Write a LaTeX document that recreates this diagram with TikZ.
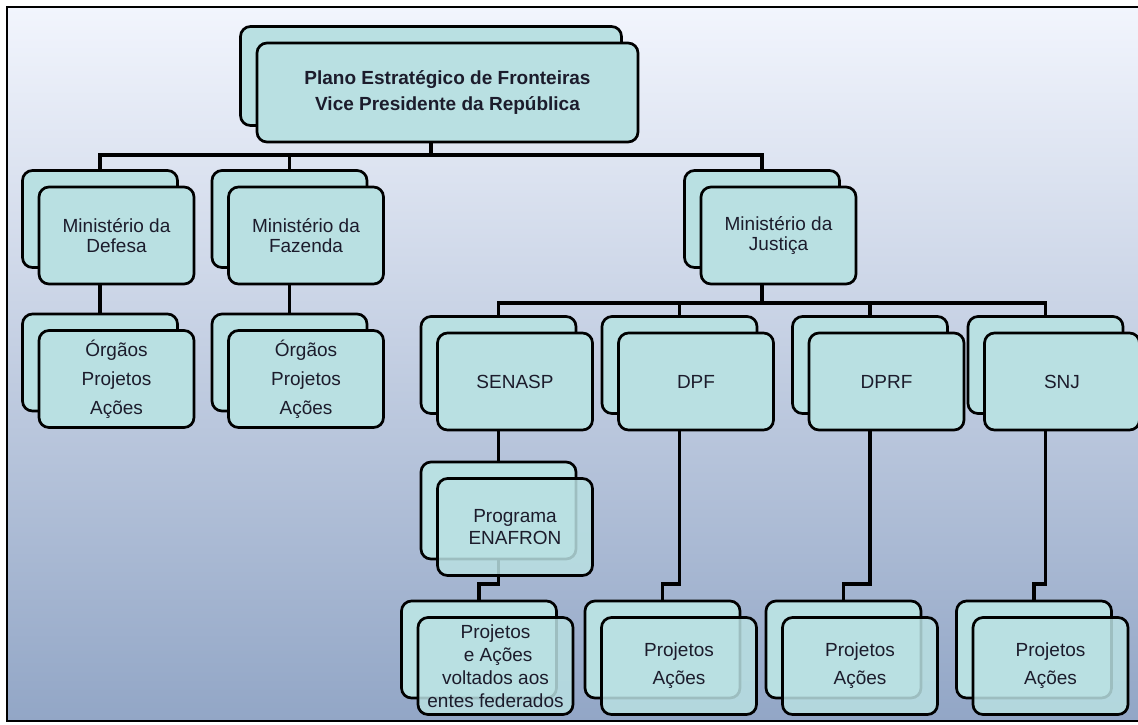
\documentclass[tikz,border=0pt]{standalone}
\usepackage{fontspec}
\setmainfont{Liberation Sans}
\usetikzlibrary{positioning, backgrounds}
\definecolor{cardfill}{RGB}{185,224,226}
\definecolor{cardtext}{RGB}{28,28,44}
\definecolor{bgtop}{RGB}{242,245,253}
\definecolor{bgmid}{RGB}{206,215,232}
\definecolor{bgbot}{RGB}{146,166,198}
\tikzset{
card/.style={draw=black, line width=1.35pt, fill=cardfill, rounded corners=5pt, minimum width=77.5pt, minimum height=48.5pt, align=center, text=cardtext, inner sep=1pt, font=\fontsize{9.5}{10}\selectfont}, % one sheet of a stacked box
topcard/.style={minimum width=190.5pt, minimum height=49.5pt, font=\bfseries\fontsize{9.5}{13.3}\selectfont}, % the wide box on top
sheet/.style={on grid, below right=8.25pt and 8.25pt of #1}, % front sheet sits right of and below its back sheet
faded/.style={fill opacity=0.85, text opacity=1}, % lets the back sheet show through
link/.style={line width=1.8pt, line join=miter}, % the black connectors
}

\begin{document}
\begin{tikzpicture}[x=0.5pt, y=-0.5pt]
  \useasboundingbox (0,0) rectangle (1138,724);

  % Top
  \node[card, topcard] (topB) at (431,76) {};
  \node[card, topcard, sheet=topB] (top) {Plano Estratégico de Fronteiras\\Vice Presidente da República};

  % Ministries
  \node[card] (defB) at (100,219) {};
  \node[card, sheet=defB] (def) {Ministério da\\Defesa};
  \node[card] (fazB) at (289.5,219) {};
  \node[card, sheet=fazB] (faz) {Ministério da\\Fazenda};
  \node[card] (jusB) at (762,219) {};
  \node[card, sheet=jusB] (jus) {Ministério da\\Justiça};

  \node[card] (defsubB) at (100,362.5) {};
  \node[card, sheet=defsubB, font=\fontsize{9.5}{14.5}\selectfont] (defsub) {Órgãos\\Projetos\\Ações};
  \node[card] (fazsubB) at (289.5,362.5) {};
  \node[card, sheet=fazsubB, font=\fontsize{9.5}{14.5}\selectfont] (fazsub) {Órgãos\\Projetos\\Ações};

  % Justiça
  \node[card] (senB) at (498.5,365) {};
  \node[card, sheet=senB] (sen) {SENASP};
  \node[card] (dpfB) at (679.5,365) {};
  \node[card, sheet=dpfB] (dpf) {DPF};
  \node[card] (dprfB) at (870,365) {};
  \node[card, sheet=dprfB] (dprf) {DPRF};
  \node[card] (snjB) at (1045.5,365) {};
  \node[card, sheet=snjB] (snj) {SNJ};

  \node[card] (enaB) at (498.5,510.5) {};
  \node[card, faded, sheet=enaB, font=\fontsize{9.5}{11}\selectfont] (ena) {Programa\\ENAFRON};

  % Projects
  \node[card] (pSenB) at (479,649.5) {};
  \node[card, faded, sheet=pSenB, font=\fontsize{9.5}{11.5}\selectfont] (pSen) {Projetos\\~e Ações\\voltados aos\\entes federados};
  \node[card] (pDpfB) at (662.5,649.5) {};
  \node[card, faded, sheet=pDpfB, font=\fontsize{9.5}{14}\selectfont] (pDpf) {Projetos\\Ações};
  \node[card] (pDprfB) at (843.5,649.5) {};
  \node[card, faded, sheet=pDprfB, font=\fontsize{9.5}{14}\selectfont] (pDprf) {Projetos\\Ações};
  \node[card] (pSnjB) at (1034,649.5) {};
  \node[card, faded, sheet=pSnjB, font=\fontsize{9.5}{14}\selectfont] (pSnj) {Projetos\\Ações};

  \coordinate (bus1) at (0,155);
  \coordinate (bus2) at (0,303);
  \coordinate (jog) at (0,584);

  \begin{scope}[on background layer]
    % Backdrop
    \fill[top color=bgtop, middle color=bgmid, bottom color=bgbot] (7,7) rectangle (1138,721);
    \draw[line width=1pt] (1138,7) -- (7,7) -- (7,721) -- (1138,721);

    % Connectors
    \draw[link] (top.south -| topB) -- (topB |- bus1);
    \draw[link] (defB.north) -- (defB.north |- bus1) -- (jusB.north |- bus1) -- (jusB.north);
    \draw[link] (fazB.north) -- (fazB.north |- bus1);
    \draw[link] (def.south -| defB) -- (defsubB.north);
    \draw[link] (faz.south -| fazB) -- (fazsubB.north);
    \draw[link] (jus.south -| jusB) -- (jusB |- bus2);
    \draw[link] (senB.north) -- (senB.north |- bus2) -- (snjB.north |- bus2) -- (snjB.north);
    \draw[link] (dpfB.north) -- (dpfB.north |- bus2);
    \draw[link] (dprfB.north) -- (dprfB.north |- bus2);
    \draw[link] (sen.south -| senB) -- (enaB.north);
    \draw[link] (enaB.south) -- (enaB |- jog) -| (pSenB.north);
    \draw[link] (dpf.south -| dpfB) -- (dpfB |- jog) -| (pDpfB.north);
    \draw[link] (dprf.south -| dprfB) -- (dprfB |- jog) -| (pDprfB.north);
    \draw[link] (snj.south -| snjB) -- (snjB |- jog) -| (pSnjB.north);
  \end{scope}
\end{tikzpicture}
\end{document}
